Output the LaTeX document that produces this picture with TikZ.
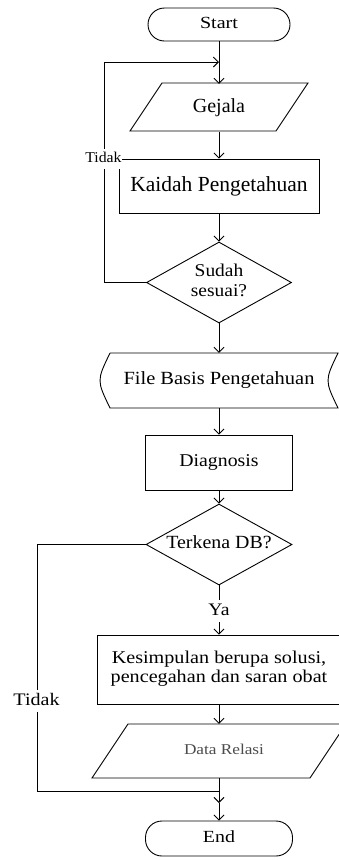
\documentclass[tikz,border=0pt]{standalone}
\usepackage{fontspec}
\setmainfont{Liberation Serif}
\usepackage{graphicx}
\usetikzlibrary{arrows.meta,shapes.geometric}
\newcommand\tx[4]{\scalebox{#1}[1]{\fontsize{#2}{#3}\selectfont\begin{tabular}{@{}c@{}}#4\end{tabular}}}
\tikzset{
  ln/.style={line width=0.9pt, draw=black},
  arr/.style={ln, -{Straight Barb[length=5pt,width=10pt]}},
  term/.style={ln, rectangle, rounded corners=16.5pt, inner sep=0pt},
  procbox/.style={ln, rectangle, inner sep=0pt},
  decision/.style={ln, diamond, inner sep=0pt},
  ghost/.style={rectangle, inner sep=0pt},
  lbl/.style={fill=white, inner sep=0.8pt},
}
\begin{document}
\begin{tikzpicture}[x=1pt,y=-1pt]
\useasboundingbox (0,0) rectangle (339,860);
\clip (0,0) rectangle (339,860);

% nodes
\node[term, minimum width=142pt, minimum height=33pt] (start) at (219,24.5) {\tx{1.18}{17}{20}{Start}};
\node[ghost, minimum width=146pt, minimum height=48pt] (gejala) at (219,108) {\tx{1}{20}{24}{Gejala}};
\draw[ln] (130,131) -- (162,83) -- (308,83) -- (276,131) -- cycle;
\node[procbox, minimum width=200pt, minimum height=54pt] (kaidah) at (219,186) {\tx{1}{21.5}{25}{Kaidah Pengetahuan}};
\node[decision, minimum width=145pt, minimum height=81pt] (sudah) at (219,282.5) {\makebox[0pt]{\tx{1.08}{18}{20}{Sudah\\sesuai?}}};
\node[ghost, minimum width=228pt, minimum height=55pt] (file) at (219,380.5) {\tx{1.1}{18.6}{22}{File Basis Pengetahuan}};
\draw[ln] (110,353) -- (338,353) .. controls (324.7,380.5) .. (338,408) -- (110,408) .. controls (96.7,380.5) .. (110,353);
\node[procbox, minimum width=147pt, minimum height=55pt] (diag) at (219,462.5) {\tx{1.1}{18}{21}{Diagnosis}};
\node[decision, minimum width=146pt, minimum height=81pt] (terkena) at (219,544.5) {\makebox[0pt]{\tx{1.07}{18.6}{22}{Terkena DB?}}};
\node[procbox, minimum width=244pt, minimum height=69pt] (kes) at (219,669.5) {\tx{1.12}{18}{19}{Kesimpulan berupa solusi,\\pencegahan dan saran obat}};
\node[ghost, minimum width=182pt, minimum height=54pt, text=black!70] (data) at (219,751) {\hspace*{10pt}\tx{1.15}{15}{18}{Data Relasi}};
\draw[ln] (92,778) -- (128,724) -- (346,724) -- (310,778) -- cycle;
\node[term, minimum width=147pt, minimum height=35pt] (end) at (219,838.5) {\tx{1.17}{17}{20}{End}};

% coordinates for loops
\coordinate (ltop) at (104,62);
\coordinate (jtop) at (219,62);
\coordinate (lbot) at (37,791);
\coordinate (jbot) at (219,791);
\coordinate (mid) at (219,803);

% connectors
\draw[arr] (start) -- (gejala);
\draw[arr] (gejala) -- (kaidah);
\draw[arr] (kaidah) -- (sudah);
\draw[arr] (sudah) -- (file);
\draw[arr] (file) -- (diag);
\draw[arr] (diag) -- (terkena);
\draw[arr] (terkena) -- node[lbl, pos=0.52] (ya) {\tx{1.12}{17.6}{21}{Ya}} (kes);
\draw[arr] (kes) -- (data);
\draw[arr] (data) -- (mid);
\draw[arr] (mid) -- (end);
\draw[arr] (sudah.west) -| (ltop) -- (jtop);
\draw[ln] (terkena.west) -| (lbot) -- (jbot);

% loop labels
\node[lbl] (tidak1) at (103.5,159) {\tx{1.05}{15}{18}{Tidak}};
\node[lbl] (tidak2) at (36.5,700.8) {\tx{1.14}{17.6}{21}{Tidak}};
\end{tikzpicture}
\end{document}
